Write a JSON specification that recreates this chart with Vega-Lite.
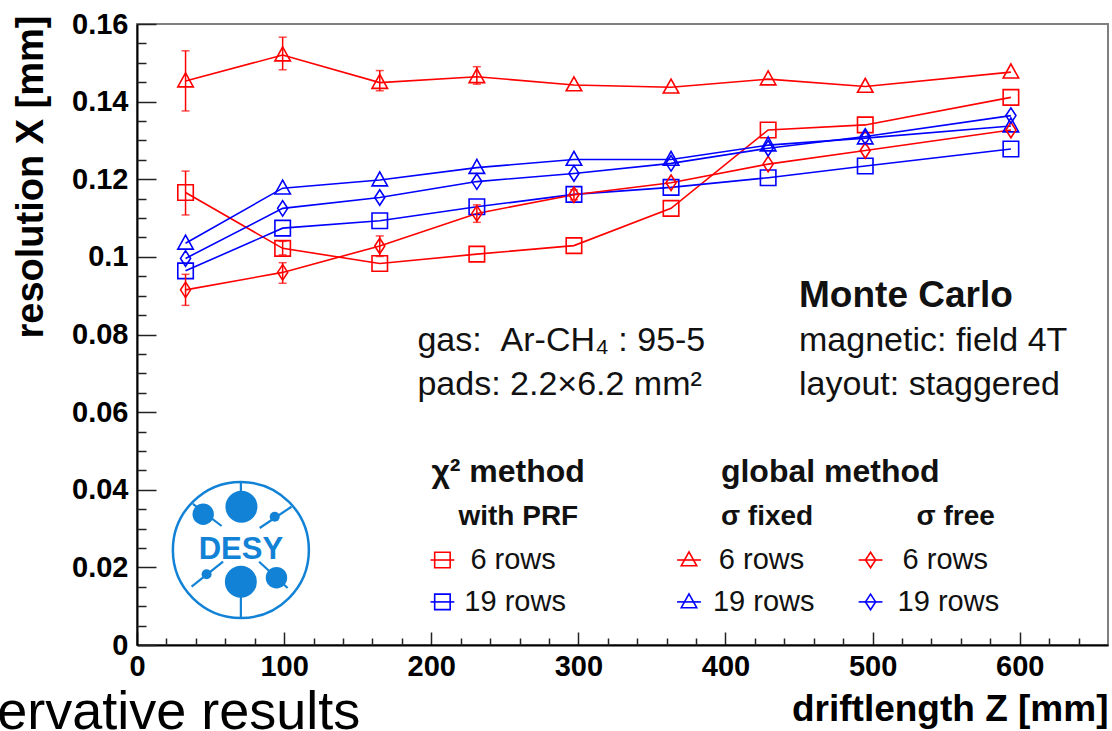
{
  "$schema": "https://vega.github.io/schema/vega-lite/v6.json",
  "width": 971,
  "height": 621,
  "autosize": "none",
  "padding": {"left": 137, "top": 24, "right": 4, "bottom": 86},
  "background": "white",
  "config": {
    "view": {"stroke": "#7f7f7f", "strokeWidth": 2},
    "font": "Liberation Sans"
  },
  "datasets": {
    "main": [
      {"method": "chi2", "rows": "6 rows", "z": 33, "res": 0.1166},
      {"method": "chi2", "rows": "6 rows", "z": 99, "res": 0.1022},
      {"method": "chi2", "rows": "6 rows", "z": 165, "res": 0.0983},
      {"method": "chi2", "rows": "6 rows", "z": 231, "res": 0.1007},
      {"method": "chi2", "rows": "6 rows", "z": 297, "res": 0.1029},
      {"method": "chi2", "rows": "6 rows", "z": 363, "res": 0.1125},
      {"method": "chi2", "rows": "6 rows", "z": 429, "res": 0.1327},
      {"method": "chi2", "rows": "6 rows", "z": 495, "res": 0.1340},
      {"method": "chi2", "rows": "6 rows", "z": 594, "res": 0.1411},
      {"method": "chi2", "rows": "19 rows", "z": 33, "res": 0.0964},
      {"method": "chi2", "rows": "19 rows", "z": 99, "res": 0.1074},
      {"method": "chi2", "rows": "19 rows", "z": 165, "res": 0.1093},
      {"method": "chi2", "rows": "19 rows", "z": 231, "res": 0.1129},
      {"method": "chi2", "rows": "19 rows", "z": 297, "res": 0.1161},
      {"method": "chi2", "rows": "19 rows", "z": 363, "res": 0.1179},
      {"method": "chi2", "rows": "19 rows", "z": 429, "res": 0.1204},
      {"method": "chi2", "rows": "19 rows", "z": 495, "res": 0.1234},
      {"method": "chi2", "rows": "19 rows", "z": 594, "res": 0.1278},
      {"method": "fixed", "rows": "6 rows", "z": 33, "res": 0.1453},
      {"method": "fixed", "rows": "6 rows", "z": 99, "res": 0.1520},
      {"method": "fixed", "rows": "6 rows", "z": 165, "res": 0.1449},
      {"method": "fixed", "rows": "6 rows", "z": 231, "res": 0.1464},
      {"method": "fixed", "rows": "6 rows", "z": 297, "res": 0.1443},
      {"method": "fixed", "rows": "6 rows", "z": 363, "res": 0.1437},
      {"method": "fixed", "rows": "6 rows", "z": 429, "res": 0.1458},
      {"method": "fixed", "rows": "6 rows", "z": 495, "res": 0.1439},
      {"method": "fixed", "rows": "6 rows", "z": 594, "res": 0.1476},
      {"method": "fixed", "rows": "19 rows", "z": 33, "res": 0.1035},
      {"method": "fixed", "rows": "19 rows", "z": 99, "res": 0.1177},
      {"method": "fixed", "rows": "19 rows", "z": 165, "res": 0.1198},
      {"method": "fixed", "rows": "19 rows", "z": 231, "res": 0.1230},
      {"method": "fixed", "rows": "19 rows", "z": 297, "res": 0.1251},
      {"method": "fixed", "rows": "19 rows", "z": 363, "res": 0.1251},
      {"method": "fixed", "rows": "19 rows", "z": 429, "res": 0.1288},
      {"method": "fixed", "rows": "19 rows", "z": 495, "res": 0.1306},
      {"method": "fixed", "rows": "19 rows", "z": 594, "res": 0.1337},
      {"method": "free", "rows": "6 rows", "z": 33, "res": 0.0915},
      {"method": "free", "rows": "6 rows", "z": 99, "res": 0.0960},
      {"method": "free", "rows": "6 rows", "z": 165, "res": 0.1028},
      {"method": "free", "rows": "6 rows", "z": 231, "res": 0.1112},
      {"method": "free", "rows": "6 rows", "z": 297, "res": 0.1160},
      {"method": "free", "rows": "6 rows", "z": 363, "res": 0.1191},
      {"method": "free", "rows": "6 rows", "z": 429, "res": 0.1239},
      {"method": "free", "rows": "6 rows", "z": 495, "res": 0.1274},
      {"method": "free", "rows": "6 rows", "z": 594, "res": 0.1327},
      {"method": "free", "rows": "19 rows", "z": 33, "res": 0.0996},
      {"method": "free", "rows": "19 rows", "z": 99, "res": 0.1125},
      {"method": "free", "rows": "19 rows", "z": 165, "res": 0.1153},
      {"method": "free", "rows": "19 rows", "z": 231, "res": 0.1194},
      {"method": "free", "rows": "19 rows", "z": 297, "res": 0.1215},
      {"method": "free", "rows": "19 rows", "z": 363, "res": 0.1241},
      {"method": "free", "rows": "19 rows", "z": 429, "res": 0.1280},
      {"method": "free", "rows": "19 rows", "z": 495, "res": 0.1310},
      {"method": "free", "rows": "19 rows", "z": 594, "res": 0.1364}
    ],
    "errors": [
      {"method": "fixed", "z": 33, "lo": 0.1376, "hi": 0.1531},
      {"method": "fixed", "z": 99, "lo": 0.1482, "hi": 0.1566},
      {"method": "fixed", "z": 165, "lo": 0.1428, "hi": 0.1480},
      {"method": "fixed", "z": 231, "lo": 0.1445, "hi": 0.1490},
      {"method": "chi2", "z": 33, "lo": 0.1108, "hi": 0.1221},
      {"method": "chi2", "z": 99, "lo": 0.1005, "hi": 0.1040},
      {"method": "free", "z": 33, "lo": 0.0875, "hi": 0.0955},
      {"method": "free", "z": 99, "lo": 0.0932, "hi": 0.0985},
      {"method": "free", "z": 165, "lo": 0.1001, "hi": 0.1054},
      {"method": "free", "z": 231, "lo": 0.1089, "hi": 0.1134},
      {"method": "free", "z": 297, "lo": 0.1147, "hi": 0.1173}
    ],
    "legend": [
      {"method": "chi2", "rows": "6 rows", "sx": 207.6, "x1": 199.5, "x2": 215.7, "ly": 0.0219, "tx": 226.6},
      {"method": "chi2", "rows": "19 rows", "sx": 207.6, "x1": 199.5, "x2": 215.7, "ly": 0.0111, "tx": 222.5},
      {"method": "fixed", "rows": "6 rows", "sx": 375.2, "x1": 367.1, "x2": 383.3, "ly": 0.0219, "tx": 395.5},
      {"method": "fixed", "rows": "19 rows", "sx": 375.2, "x1": 367.1, "x2": 383.3, "ly": 0.0111, "tx": 391.5},
      {"method": "free", "rows": "6 rows", "sx": 498.6, "x1": 490.5, "x2": 506.7, "ly": 0.0219, "tx": 520.4},
      {"method": "free", "rows": "19 rows", "sx": 498.6, "x1": 490.5, "x2": 506.7, "ly": 0.0111, "tx": 517.0}
    ],
    "bigbold": [
      {"label": "Monte Carlo", "x": 450, "y": 0.0900}
    ],
    "info": [
      {"label": "magnetic: field 4T", "x": 450, "y": 0.0783},
      {"label": "layout: staggered", "x": 450, "y": 0.0670},
      {"label": "gas:\u00a0\u00a0Ar-CH\u2084\u00a0: 95-5", "x": 190.6, "y": 0.0783},
      {"label": "pads: 2.2×6.2 mm²", "x": 190.6, "y": 0.0670}
    ],
    "heads": [
      {"label": "χ² method", "x": 200.1, "y": 0.0446},
      {"label": "global method", "x": 396.9, "y": 0.0446}
    ],
    "subheads": [
      {"label": "with PRF", "x": 218.5, "y": 0.0330},
      {"label": "σ fixed", "x": 396.9, "y": 0.0330},
      {"label": "σ free", "x": 529.9, "y": 0.0330}
    ],
    "slide": [
      {"label": "ervative results", "x": -95, "y": -0.0216}
    ],
    "logoCenter": [{"x": 70.6, "y": 0.02448, "label": "DESY"}],
    "logoBig": [
      {"x": 71.0, "y": 0.03563},
      {"x": 70.6, "y": 0.01631}
    ],
    "logoMid": [
      {"x": 45.0, "y": 0.03368},
      {"x": 94.8, "y": 0.01734}
    ],
    "logoSmall": [
      {"x": 93.6, "y": 0.03306},
      {"x": 47.3, "y": 0.01822}
    ],
    "logoLines": [
      {"x": 70.6, "y": 0.0420, "x2": 70.6, "y2": 0.0356},
      {"x": 70.6, "y": 0.0162, "x2": 70.6, "y2": 0.0070},
      {"x": 38.0, "y": 0.03633, "x2": 57.5, "y2": 0.03066},
      {"x": 83.4, "y": 0.03015, "x2": 105.0, "y2": 0.03563},
      {"x": 37.1, "y": 0.01502, "x2": 58.5, "y2": 0.02146},
      {"x": 83.0, "y": 0.02146, "x2": 102.4, "y2": 0.01469}
    ]
  },
  "layer": [
    {
      "data": {"name": "main"},
      "mark": {"type": "line", "strokeWidth": 1.6},
      "encoding": {
        "x": {
          "field": "z", "type": "quantitative",
          "scale": {"domain": [0, 660], "nice": false, "zero": false},
          "axis": {
            "orient": "bottom",
            "values": [0, 100, 200, 300, 400, 500, 600],
            "grid": false,
            "labelFlush": false,
            "labelFont": "Liberation Sans",
            "labelFontSize": 29,
            "labelFontWeight": "bold",
            "labelColor": "black",
            "labelPadding": 20,
            "tickSize": -13,
            "tickColor": "#222",
            "tickWidth": 1.5,
            "domainColor": "black",
            "domainWidth": 2,
            "title": "driftlength Z [mm]",
            "titleFont": "Liberation Sans",
            "titleFontSize": 37,
            "titleFontWeight": "bold",
            "titleColor": "black",
            "titleAnchor": "end",
            "titleAlign": "right",
            "titleBaseline": "alphabetic",
            "titleX": 971,
            "titleY": 75
          }
        },
        "y": {
          "field": "res", "type": "quantitative",
          "scale": {"domain": [0, 0.16], "nice": false, "zero": false},
          "axis": {
            "orient": "left",
            "values": [0, 0.02, 0.04, 0.06, 0.08, 0.1, 0.12, 0.14, 0.16],
            "format": "~g",
            "grid": false,
            "labelFont": "Liberation Sans",
            "labelFontSize": 29,
            "labelFontWeight": "bold",
            "labelColor": "black",
            "labelPadding": 28,
            "tickSize": -19,
            "tickColor": "#222",
            "tickWidth": 1.5,
            "domainColor": "black",
            "domainWidth": 2,
            "title": "resolution X [mm]",
            "titleFont": "Liberation Sans",
            "titleFontSize": 38,
            "titleFontWeight": "bold",
            "titleColor": "black",
            "titleAngle": -90,
            "titleAlign": "right",
            "titleBaseline": "bottom",
            "titleX": -87,
            "titleY": -9
          }
        },
        "color": {"field": "rows", "type": "nominal", "scale": {"domain": ["6 rows", "19 rows"], "range": ["#ff0000", "#0000ff"]}, "legend": null},
        "detail": {"field": "method"},
        "order": {"field": "z"}
      }
    },
    {
      "data": {"name": "main"},
      "mark": {"type": "point", "filled": false, "size": 240, "strokeWidth": 1.6, "opacity": 1},
      "encoding": {
        "x": {
          "field": "z", "type": "quantitative",
          "scale": {"domain": [0, 660], "nice": false, "zero": false},
          "axis": {
            "orient": "bottom",
            "values": [20, 40, 60, 80, 120, 140, 160, 180, 220, 240, 260, 280, 320, 340, 360, 380, 420, 440, 460, 480, 520, 540, 560, 580, 620, 640],
            "labels": false, "domain": false, "grid": false,
            "tickSize": -7, "tickColor": "#222", "tickWidth": 1.5, "title": null
          }
        },
        "y": {
          "field": "res", "type": "quantitative",
          "scale": {"domain": [0, 0.16], "nice": false, "zero": false},
          "axis": {
            "orient": "left",
            "values": [0.005, 0.01, 0.015, 0.025, 0.03, 0.035, 0.045, 0.05, 0.055, 0.065, 0.07, 0.075, 0.085, 0.09, 0.095, 0.105, 0.11, 0.115, 0.125, 0.13, 0.135, 0.145, 0.15, 0.155],
            "labels": false, "domain": false, "grid": false,
            "tickSize": -9, "tickColor": "#222", "tickWidth": 1.5, "title": null
          }
        },
        "color": {"field": "rows", "type": "nominal", "scale": {"domain": ["6 rows", "19 rows"], "range": ["#ff0000", "#0000ff"]}, "legend": null},
        "shape": {"field": "method", "type": "nominal", "scale": {"domain": ["chi2", "fixed", "free"], "range": ["M-1,-1L1,-1L1,1L-1,1Z", "M0,-1.05L1,0.75L-1,0.75Z", "M0,-1L0.65,0L0,1L-0.65,0Z"]}, "legend": null}
      }
    },
    {
      "data": {"name": "errors"},
      "mark": {"type": "errorbar", "color": "#ff0000", "thickness": 1.5, "ticks": {"size": 8, "thickness": 1.5, "color": "#ff0000"}},
      "encoding": {
        "x": {"field": "z", "type": "quantitative", "scale": {"domain": [0, 660], "nice": false, "zero": false}, "axis": null},
        "y": {"field": "lo", "type": "quantitative", "scale": {"domain": [0, 0.16], "nice": false, "zero": false}, "axis": null},
        "y2": {"field": "hi"}
      }
    },
    {
      "data": {"name": "legend"},
      "mark": {"type": "rule", "strokeWidth": 1.6},
      "encoding": {
        "x": {"field": "x1", "type": "quantitative", "scale": {"domain": [0, 660], "nice": false, "zero": false}, "axis": null},
        "x2": {"field": "x2"},
        "y": {"field": "ly", "type": "quantitative", "scale": {"domain": [0, 0.16], "nice": false, "zero": false}, "axis": null},
        "color": {"field": "rows", "type": "nominal", "scale": {"domain": ["6 rows", "19 rows"], "range": ["#ff0000", "#0000ff"]}, "legend": null}
      }
    },
    {
      "data": {"name": "legend"},
      "mark": {"type": "point", "filled": false, "size": 240, "strokeWidth": 1.6, "opacity": 1},
      "encoding": {
        "x": {"field": "sx", "type": "quantitative", "scale": {"domain": [0, 660], "nice": false, "zero": false}, "axis": null},
        "y": {"field": "ly", "type": "quantitative", "scale": {"domain": [0, 0.16], "nice": false, "zero": false}, "axis": null},
        "color": {"field": "rows", "type": "nominal", "scale": {"domain": ["6 rows", "19 rows"], "range": ["#ff0000", "#0000ff"]}, "legend": null},
        "shape": {"field": "method", "type": "nominal", "scale": {"domain": ["chi2", "fixed", "free"], "range": ["M-1,-1L1,-1L1,1L-1,1Z", "M0,-1.05L1,0.75L-1,0.75Z", "M0,-1L0.65,0L0,1L-0.65,0Z"]}, "legend": null}
      }
    },
    {
      "data": {"name": "legend"},
      "mark": {"type": "text", "align": "left", "baseline": "middle", "font": "Liberation Sans", "fontSize": 29, "color": "#111"},
      "encoding": {
        "x": {"field": "tx", "type": "quantitative", "scale": {"domain": [0, 660], "nice": false, "zero": false}, "axis": null},
        "y": {"field": "ly", "type": "quantitative", "scale": {"domain": [0, 0.16], "nice": false, "zero": false}, "axis": null},
        "text": {"field": "rows"}
      }
    },
    {
      "data": {"name": "bigbold"},
      "mark": {"type": "text", "align": "left", "baseline": "middle", "font": "Liberation Sans", "fontSize": 37, "fontWeight": "bold", "color": "#111"},
      "encoding": {
        "x": {"field": "x", "type": "quantitative", "scale": {"domain": [0, 660], "nice": false, "zero": false}, "axis": null},
        "y": {"field": "y", "type": "quantitative", "scale": {"domain": [0, 0.16], "nice": false, "zero": false}, "axis": null},
        "text": {"field": "label"}
      }
    },
    {
      "data": {"name": "info"},
      "mark": {"type": "text", "align": "left", "baseline": "middle", "font": "Liberation Sans", "fontSize": 34, "color": "#111"},
      "encoding": {
        "x": {"field": "x", "type": "quantitative", "scale": {"domain": [0, 660], "nice": false, "zero": false}, "axis": null},
        "y": {"field": "y", "type": "quantitative", "scale": {"domain": [0, 0.16], "nice": false, "zero": false}, "axis": null},
        "text": {"field": "label"}
      }
    },
    {
      "data": {"name": "heads"},
      "mark": {"type": "text", "align": "left", "baseline": "middle", "font": "Liberation Sans", "fontSize": 32, "fontWeight": "bold", "color": "#111"},
      "encoding": {
        "x": {"field": "x", "type": "quantitative", "scale": {"domain": [0, 660], "nice": false, "zero": false}, "axis": null},
        "y": {"field": "y", "type": "quantitative", "scale": {"domain": [0, 0.16], "nice": false, "zero": false}, "axis": null},
        "text": {"field": "label"}
      }
    },
    {
      "data": {"name": "subheads"},
      "mark": {"type": "text", "align": "left", "baseline": "middle", "font": "Liberation Sans", "fontSize": 28, "fontWeight": "bold", "color": "#111"},
      "encoding": {
        "x": {"field": "x", "type": "quantitative", "scale": {"domain": [0, 660], "nice": false, "zero": false}, "axis": null},
        "y": {"field": "y", "type": "quantitative", "scale": {"domain": [0, 0.16], "nice": false, "zero": false}, "axis": null},
        "text": {"field": "label"}
      }
    },
    {
      "data": {"name": "slide"},
      "mark": {"type": "text", "align": "left", "baseline": "alphabetic", "font": "Liberation Sans", "fontSize": 54, "color": "black"},
      "encoding": {
        "x": {"field": "x", "type": "quantitative", "scale": {"domain": [0, 660], "nice": false, "zero": false}, "axis": null},
        "y": {"field": "y", "type": "quantitative", "scale": {"domain": [0, 0.16], "nice": false, "zero": false}, "axis": null},
        "text": {"field": "label"}
      }
    },
    {
      "data": {"name": "logoLines"},
      "mark": {"type": "rule", "color": "#1282d6", "strokeWidth": 2.2},
      "encoding": {
        "x": {"field": "x", "type": "quantitative", "scale": {"domain": [0, 660], "nice": false, "zero": false}, "axis": null},
        "y": {"field": "y", "type": "quantitative", "scale": {"domain": [0, 0.16], "nice": false, "zero": false}, "axis": null},
        "x2": {"field": "x2"},
        "y2": {"field": "y2"}
      }
    },
    {
      "data": {"name": "logoCenter"},
      "mark": {"type": "point", "shape": "circle", "filled": false, "size": 18496, "strokeWidth": 2.5, "color": "#1282d6", "opacity": 1},
      "encoding": {
        "x": {"field": "x", "type": "quantitative", "scale": {"domain": [0, 660], "nice": false, "zero": false}, "axis": null},
        "y": {"field": "y", "type": "quantitative", "scale": {"domain": [0, 0.16], "nice": false, "zero": false}, "axis": null}
      }
    },
    {
      "data": {"name": "logoBig"},
      "mark": {"type": "point", "shape": "circle", "filled": true, "size": 1024, "color": "#1282d6", "opacity": 1},
      "encoding": {
        "x": {"field": "x", "type": "quantitative", "scale": {"domain": [0, 660], "nice": false, "zero": false}, "axis": null},
        "y": {"field": "y", "type": "quantitative", "scale": {"domain": [0, 0.16], "nice": false, "zero": false}, "axis": null}
      }
    },
    {
      "data": {"name": "logoMid"},
      "mark": {"type": "point", "shape": "circle", "filled": true, "size": 460, "color": "#1282d6", "opacity": 1},
      "encoding": {
        "x": {"field": "x", "type": "quantitative", "scale": {"domain": [0, 660], "nice": false, "zero": false}, "axis": null},
        "y": {"field": "y", "type": "quantitative", "scale": {"domain": [0, 0.16], "nice": false, "zero": false}, "axis": null}
      }
    },
    {
      "data": {"name": "logoSmall"},
      "mark": {"type": "point", "shape": "circle", "filled": true, "size": 100, "color": "#1282d6", "opacity": 1},
      "encoding": {
        "x": {"field": "x", "type": "quantitative", "scale": {"domain": [0, 660], "nice": false, "zero": false}, "axis": null},
        "y": {"field": "y", "type": "quantitative", "scale": {"domain": [0, 0.16], "nice": false, "zero": false}, "axis": null}
      }
    },
    {
      "data": {"name": "logoCenter"},
      "mark": {"type": "text", "align": "center", "baseline": "middle", "font": "Liberation Sans", "fontSize": 31, "fontWeight": "bold", "color": "#1282d6"},
      "encoding": {
        "x": {"field": "x", "type": "quantitative", "scale": {"domain": [0, 660], "nice": false, "zero": false}, "axis": null},
        "y": {"field": "y", "type": "quantitative", "scale": {"domain": [0, 0.16], "nice": false, "zero": false}, "axis": null},
        "text": {"field": "label"}
      }
    }
  ],
  "resolve": {"axis": {"x": "independent", "y": "independent"}}
}
